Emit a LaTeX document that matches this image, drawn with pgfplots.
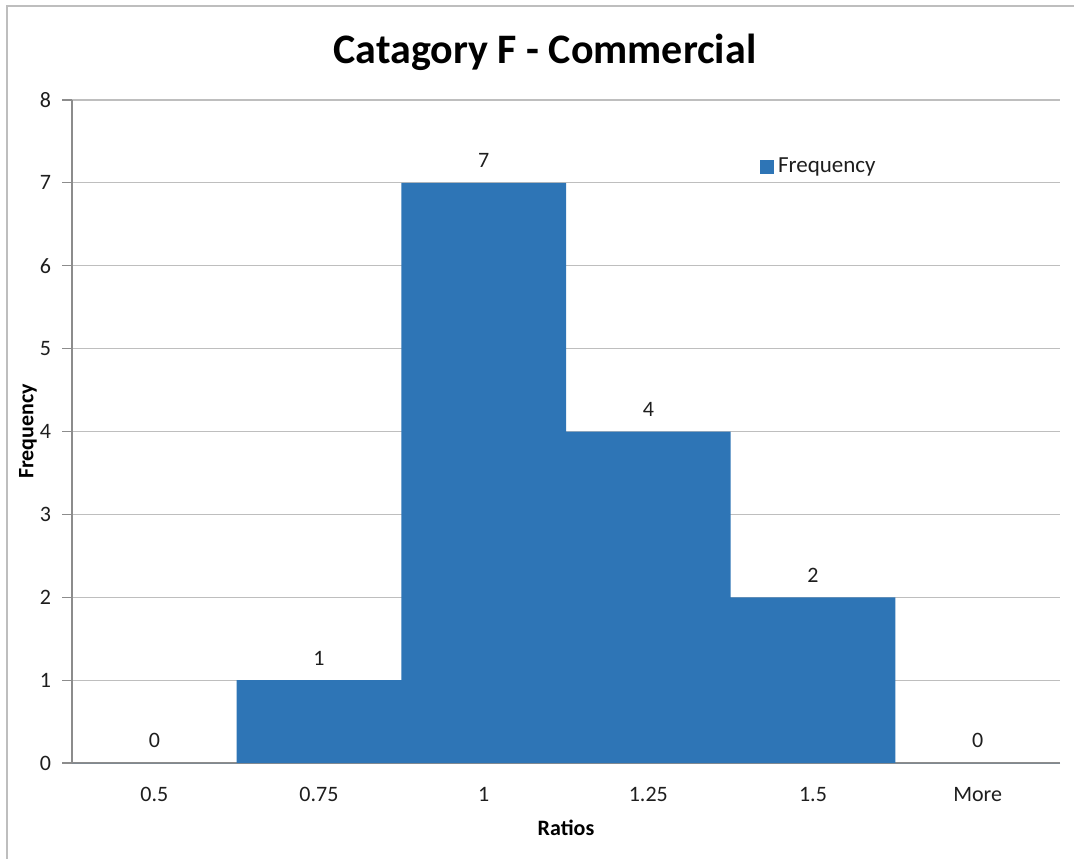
\documentclass[border=0pt]{standalone}
\usepackage{fontspec}
\setmainfont{Carlito}
\usepackage{pgfplots}
\pgfplotsset{compat=1.18}
\definecolor{barcol}{RGB}{46,117,182}
\definecolor{gridc}{RGB}{190,190,190}
\definecolor{axc}{RGB}{140,140,140}
\definecolor{txt}{RGB}{30,30,30}
\begin{document}
\begin{tikzpicture}
\path[use as bounding box] (0pt,0pt) rectangle (537pt,429pt);
\draw[gridc, line width=0.8pt] (3.5pt,-1pt) -- (3.5pt,426pt) -- (540pt,426pt);
\node[font=\fontsize{21}{24}\selectfont\bfseries, text=black] at (272.5pt,403pt) {Catagory F - Commercial};
\begin{axis}[
  at={(36pt,47.5pt)}, anchor=south west,
  scale only axis, width=494pt, height=331.5pt,
  ybar, bar width=1, bar shift=0pt,
  xmin=-0.5, xmax=5.5, ymin=0, ymax=8,
  axis lines*=left,
  axis line style={axc, line width=0.6pt},
  x axis line style={-}, y axis line style={-},
  xtick={0,1,2,3,4,5},
  xticklabels={0.5,0.75,1,1.25,1.5,More},
  major x tick style={draw=none},
  extra x ticks={-0.5,0.5,1.5,2.5,3.5,4.5,5.5},
  extra x tick labels={},
  extra x tick style={major tick length=5pt, tick style={axc, line width=0.6pt}, xtick align=outside, grid=none},
  ytick={0,1,...,8},
  ytick align=outside, major tick length=5pt,
  ytick style={axc, line width=0.6pt},
  ymajorgrids, grid style={gridc, line width=0.6pt},
  tick label style={font=\fontsize{11}{13}\selectfont, text=txt},
  /pgf/number format/assume math mode=true,
  xticklabel style={yshift=-3.5pt},
  yticklabel style={xshift=-2pt},
  xlabel={Ratios}, ylabel={Frequency},
  label style={font=\fontsize{11}{13}\selectfont\bfseries, text=black},
  xlabel style={at={(axis description cs:0.5,-0.098)}, anchor=center},
  ylabel style={at={(axis description cs:-0.0445,0.5)}, anchor=center},
  nodes near coords,
  every node near coord/.append style={font=\fontsize{11}{13}\selectfont, text=txt, yshift=4pt},
  legend style={at={(0.696,0.899)}, anchor=west, draw=none, fill=none, font=\fontsize{11.5}{13}\selectfont, text=txt, inner sep=0pt},
  legend image code/.code={\fill[barcol] (0pt,-3.5pt) rectangle (7pt,3.5pt);},
]
\addplot[fill=barcol, draw=none] coordinates {(0,0) (1,1) (2,7) (3,4) (4,2) (5,0)};
\addlegendentry{Frequency}
\end{axis}
\end{tikzpicture}
\end{document}
